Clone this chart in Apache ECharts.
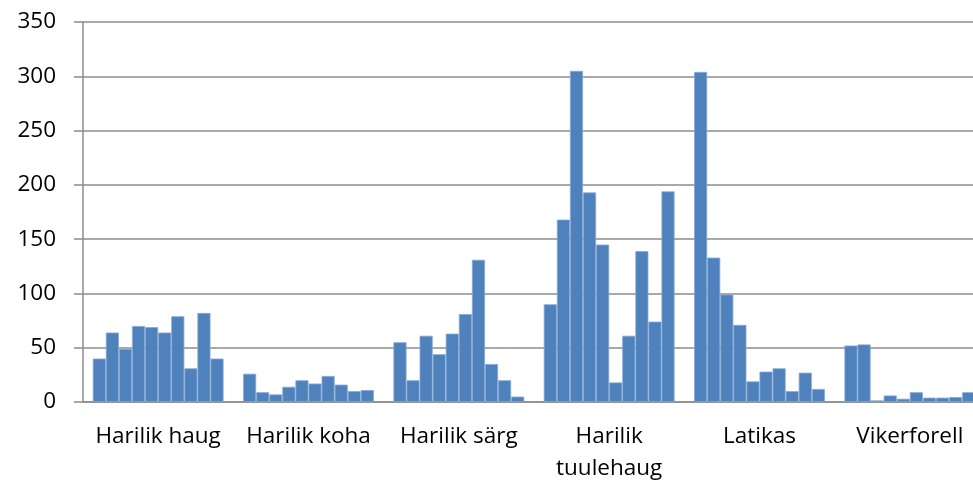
<!DOCTYPE html>
<html>
<head>
<meta charset="utf-8">
<script src="https://cdn.jsdelivr.net/npm/echarts@6/dist/echarts.min.js"></script>
<style>
  html, body { margin: 0; padding: 0; background: #fff; }
  #chart-container { width: 973px; height: 481px; }
</style>
</head>
<body>
<div id="chart-container"></div>
<script>
// fish species on the x axis
let categories = ['Harilik haug', 'Harilik koha', 'Harilik särg', 'Harilik tuulehaug', 'Latikas', 'Vikerforell'];

// one row per species, 10 bars each
let haug = [40, 64, 49, 70, 69, 64, 79, 31, 82, 40];
let koha = [26, 9, 7, 14, 20, 17, 24, 16, 10, 11];
let sarg = [55, 20, 61, 44, 63, 81, 131, 35, 20, 5];
let tuulehaug = [90, 168, 305, 193, 145, 18, 61, 139, 74, 194];
let latikas = [304, 133, 99, 71, 19, 28, 31, 10, 27, 12];
let vikerforell = [52, 53, 1.5, 6, 3, 9, 4, 4, 4.5, 9];

let yTicks = [0, 50, 100, 150, 200, 250, 300, 350];

let rows = [haug, koha, sarg, tuulehaug, latikas, vikerforell];

let dom = document.getElementById('chart-container');
let myChart = echarts.init(dom, null, { renderer: 'canvas' });

let series = [];
for (let i = 0; i < 10; i++) {
    series.push({
        name: 'S' + (i + 1),
        type: 'bar',
        barGap: '0%',
        barCategoryGap: '13%',
        itemStyle: {
            color: '#4F81BD',
            borderColor: '#86a9d4',
            borderWidth: 0.8
        },
        data: rows.map(function(r) { return r[i]; })
    });
}

let axisFont = { fontFamily: 'Open Sans', fontSize: 22.5, color: '#000' };
let axisGray = '#8c8c8c';

let option = {
    animation: false,
    // plot runs past the right edge, like the original picture
    grid: { left: 83, right: -12, top: 22, bottom: 79, outerBoundsMode: 'none' },
    xAxis: {
        type: 'category',
        data: categories,
        axisLine: { lineStyle: { color: axisGray, width: 1.5 } },
        axisTick: { length: 9, lineStyle: { color: axisGray, width: 1.5 } },
        axisLabel: Object.assign({
            margin: 19,
            lineHeight: 32,
            interval: 0,
            formatter: function(v) {
                return v.length > 15 ? v.replace(' ', '\n') : v;
            }
        }, axisFont)
    },
    yAxis: {
        type: 'value',
        min: yTicks[0],
        max: yTicks[yTicks.length - 1],
        interval: 50,
        axisLine: { show: true, lineStyle: { color: axisGray, width: 1.5 } },
        axisTick: { show: true, length: 9, lineStyle: { color: axisGray, width: 1.5 } },
        splitLine: { lineStyle: { color: axisGray, width: 1.5 } },
        axisLabel: Object.assign({ margin: 27 }, axisFont)
    },
    series: series
};

myChart.setOption(option);
window.addEventListener('resize', myChart.resize);
</script>
</body>
</html>
